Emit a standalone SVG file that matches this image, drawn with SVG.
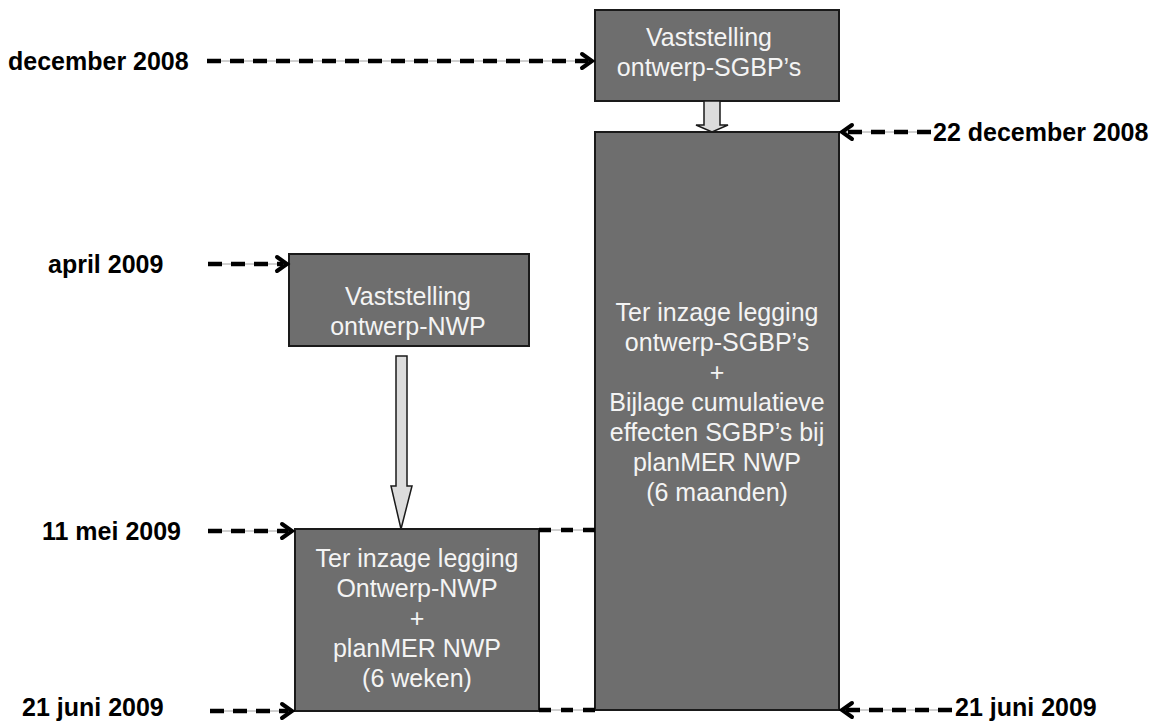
<svg xmlns="http://www.w3.org/2000/svg" width="1152" height="722" viewBox="0 0 1152 722">
<style>
.box{fill:#6e6e6e;stroke:#1a1a1a;stroke-width:2}
.bt{font-family:"Liberation Sans",Arial,sans-serif;font-size:25px;fill:#f4f4f4;text-anchor:middle}
.lb{font-family:"Liberation Sans",Arial,sans-serif;font-size:25px;font-weight:bold;fill:#000}
.thin{stroke:#a0a0a0;stroke-width:1;fill:none}
.dash{stroke:#000;stroke-width:4.5;stroke-dasharray:14 9;fill:none}
.head{stroke:#000;stroke-width:4;fill:none;stroke-linecap:round;stroke-linejoin:miter}
.blk{fill:#dcdcdc;stroke:#1a1a1a;stroke-width:1.5}
</style>
<rect width="1152" height="722" fill="#fff"/>
<g id="box-vaststelling-sgbp">
<rect class="box" x="595" y="10" width="244" height="91"/>
<text class="bt" x="709" y="46">Vaststelling</text>
<text class="bt" x="709" y="76">ontwerp-SGBP’s</text>
</g>
<g id="box-terinzage-sgbp">
<rect class="box" x="595" y="132" width="244" height="578"/>
<text class="bt" x="717" y="321">Ter inzage legging</text>
<text class="bt" x="717" y="351">ontwerp-SGBP’s</text>
<text class="bt" x="717" y="381">+</text>
<text class="bt" x="717" y="411">Bijlage cumulatieve</text>
<text class="bt" x="717" y="441">effecten SGBP’s bij</text>
<text class="bt" x="717" y="471">planMER NWP</text>
<text class="bt" x="717" y="501">(6 maanden)</text>
</g>
<g id="box-vaststelling-nwp">
<rect class="box" x="289" y="254" width="240" height="92"/>
<text class="bt" x="408" y="305">Vaststelling</text>
<text class="bt" x="408" y="335">ontwerp-NWP</text>
</g>
<g id="box-terinzage-nwp">
<rect class="box" x="295" y="529" width="244" height="182"/>
<text class="bt" x="417" y="567">Ter inzage legging</text>
<text class="bt" x="417" y="597">Ontwerp-NWP</text>
<text class="bt" x="417" y="627">+</text>
<text class="bt" x="417" y="657">planMER NWP</text>
<text class="bt" x="417" y="687">(6 weken)</text>
</g>
<g id="labels">
<text class="lb" x="8" y="70">december 2008</text>
<text class="lb" x="933" y="141">22 december 2008</text>
<text class="lb" x="48" y="273">april 2009</text>
<text class="lb" x="42" y="540">11 mei 2009</text>
<text class="lb" x="22" y="716">21 juni 2009</text>
<text class="lb" x="955" y="716">21 juni 2009</text>
</g>
<g id="connectors">
<path class="blk" d="M704,101 L720,101 L720,125 L728,125 L712,132 L696,125 L704,125 Z"/>
<path class="blk" d="M396,356 L407,356 L407,486 L412,486 L401,529 L391,486 L396,486 Z"/>
<line class="thin" x1="207" y1="61" x2="592" y2="61"/>
<line class="dash" x1="207" y1="61" x2="588" y2="61"/>
<polyline class="head" points="582,54 592,61 582,68"/>
<line class="thin" x1="842" y1="132" x2="931" y2="132"/>
<line class="dash" x1="931" y1="132" x2="846" y2="132"/>
<polyline class="head" points="852,125 842,132 852,139"/>
<line class="thin" x1="208" y1="264" x2="287" y2="264"/>
<line class="dash" x1="208" y1="264" x2="283" y2="264"/>
<polyline class="head" points="277,257 287,264 277,271"/>
<line class="thin" x1="208" y1="531" x2="292" y2="531"/>
<line class="dash" x1="208" y1="531" x2="288" y2="531"/>
<polyline class="head" points="282,524 292,531 282,538"/>
<line class="thin" x1="210" y1="711" x2="292" y2="711"/>
<line class="dash" x1="210" y1="711" x2="288" y2="711"/>
<polyline class="head" points="282,704 292,711 282,718"/>
<line class="thin" x1="842" y1="710" x2="952" y2="710"/>
<line class="dash" x1="952" y1="710" x2="846" y2="710"/>
<polyline class="head" points="852,703 842,710 852,717"/>
<line class="thin" x1="539" y1="530" x2="595" y2="530"/>
<line class="dash" x1="539" y1="530" x2="595" y2="530" style="stroke-dasharray:12 10"/>
<line class="thin" x1="539" y1="710" x2="595" y2="710"/>
<line class="dash" x1="539" y1="710" x2="595" y2="710" style="stroke-dasharray:12 10"/>
</g>
</svg>
